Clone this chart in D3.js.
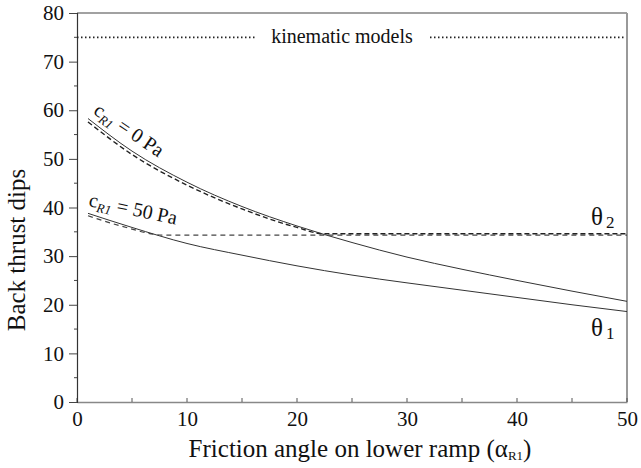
<!DOCTYPE html>
<html>
<head>
<meta charset="utf-8">
<script src="https://cdn.jsdelivr.net/npm/d3@7"></script>
<style>
  html, body { margin: 0; padding: 0; background: #fff; }
  svg { display: block; }
  text { font-family: "Liberation Serif", "DejaVu Serif", serif; fill: #111; }
</style>
</head>
<body>
<svg id="chart" width="641" height="468"></svg>
<script>
// Friction angle on the lower ramp (degrees)
const alpha = [1, 5, 10, 15, 20, 25, 30, 35, 40, 45, 50];
// Back thrust dip theta1 for cohesion 0 Pa and 50 Pa (solid)
const theta1C0 = [58.3, 51.6, 45.2, 40.2, 36.2, 32.8, 29.8, 27.3, 25.0, 22.8, 20.7];
const theta1C50 = [38.8, 35.9, 32.6, 30.2, 28.0, 26.1, 24.5, 23.0, 21.5, 20.0, 18.6];
// Back thrust dip theta2 (dashed), levelling off at the critical value
const alphaT2C0 = [1, 5, 10, 15, 20, 22.4, 30, 40, 50];
const theta2C0 = [57.6, 50.9, 44.6, 39.7, 35.9, 34.6, 34.6, 34.6, 34.6];
const alphaT2C50 = [1, 4, 8, 20, 30, 40, 50];
const theta2C50 = [38.3, 36.2, 34.3, 34.3, 34.3, 34.3, 34.3];
// Kinematic models reference dip
const kinematicDip = 75;

const xTicks = [0, 10, 20, 30, 40, 50];
const xMinor = [5, 15, 25, 35, 45];
const yTicks = [0, 10, 20, 30, 40, 50, 60, 70, 80];
const yMinor = [5, 15, 25, 35, 45, 55, 65, 75];

const mLeft = 77, mRight = 627, mTop = 13, mBottom = 402;
const svg = d3.select("#chart");
const x = d3.scaleLinear().domain([0, 50]).range([mLeft, mRight]);
const y = d3.scaleLinear().domain([0, 80]).range([mBottom, mTop]);

// frame: top dark, right light grey
svg.append("line").attr("x1", mLeft).attr("x2", mRight).attr("y1", mTop).attr("y2", mTop)
  .attr("stroke", "#444").attr("stroke-width", 1.2);
svg.append("line").attr("x1", mRight).attr("x2", mRight).attr("y1", mTop).attr("y2", mBottom)
  .attr("stroke", "#999").attr("stroke-width", 2);

// x axis (ticks pointing inward)
const xAxis = svg.append("g").attr("transform", `translate(0,${mBottom})`)
  .call(d3.axisBottom(x).tickValues(xTicks).tickSize(0).tickPadding(9).tickFormat(d3.format("d")));
xAxis.select(".domain").attr("stroke", "#888").attr("stroke-width", 1.6);
xAxis.selectAll("text").attr("font-size", 21).attr("font-family", "Liberation Serif").attr("fill", "#111");
svg.append("g").selectAll("line").data(xTicks.concat(xMinor)).join("line")
  .attr("x1", d => x(d)).attr("x2", d => x(d))
  .attr("y1", mBottom).attr("y2", mBottom - 4)
  .attr("stroke", "#555").attr("stroke-width", 1);

// y axis (ticks pointing outward)
const yAxis = svg.append("g").attr("transform", `translate(${mLeft},0)`)
  .call(d3.axisLeft(y).tickValues(yTicks).tickSize(8).tickPadding(5).tickFormat(d3.format("d")));
yAxis.select(".domain").attr("stroke", "#333").attr("stroke-width", 1.2);
yAxis.selectAll(".tick line").attr("stroke", "#444");
yAxis.selectAll("text").attr("font-size", 21).attr("font-family", "Liberation Serif").attr("fill", "#111");
svg.append("g").selectAll("line").data(yMinor).join("line")
  .attr("x1", mLeft - 3).attr("x2", mLeft)
  .attr("y1", d => y(d)).attr("y2", d => y(d))
  .attr("stroke", "#444").attr("stroke-width", 1);

// axis titles
svg.append("text")
  .attr("transform", "translate(25,250) rotate(-90)")
  .attr("text-anchor", "middle").attr("font-size", 25)
  .text("Back thrust dips");

const xt = svg.append("text").attr("x", 360).attr("y", 457)
  .attr("text-anchor", "middle").attr("font-size", 25);
xt.append("tspan").text("Friction angle on lower ramp (α");
xt.append("tspan").attr("font-size", 13).attr("dy", 3).text("R1");
xt.append("tspan").attr("dy", -3).text(")");

// kinematic models reference line with its label
const kinY = y(kinematicDip);
svg.append("line").attr("x1", mLeft).attr("x2", 255).attr("y1", kinY).attr("y2", kinY)
  .attr("stroke", "#222").attr("stroke-width", 1.8).attr("stroke-dasharray", "1.5,2.5");
svg.append("line").attr("x1", 430).attr("x2", mRight - 2).attr("y1", kinY).attr("y2", kinY)
  .attr("stroke", "#222").attr("stroke-width", 1.8).attr("stroke-dasharray", "1.5,2.5");
svg.append("text").attr("x", 342).attr("y", kinY + 6).attr("text-anchor", "middle")
  .attr("font-size", 20).text("kinematic models");

// curves
const line = d3.line().x(d => x(d[0])).y(d => y(d[1])).curve(d3.curveMonotoneX);
const zip = (a, b) => a.map((v, i) => [v, b[i]]);

svg.append("path").datum(zip(alphaT2C50, theta2C50)).attr("d", line)
  .attr("fill", "none").attr("stroke", "#444").attr("stroke-width", 1.2).attr("stroke-dasharray", "5,4");
svg.append("path").datum(zip(alphaT2C0, theta2C0)).attr("d", line)
  .attr("fill", "none").attr("stroke", "#222").attr("stroke-width", 1.4).attr("stroke-dasharray", "5,3");
svg.append("path").datum(zip(alpha, theta1C0)).attr("d", line)
  .attr("fill", "none").attr("stroke", "#333").attr("stroke-width", 1);
svg.append("path").datum(zip(alpha, theta1C50)).attr("d", line)
  .attr("fill", "none").attr("stroke", "#333").attr("stroke-width", 1);

// cohesion labels, rotated along the curves
function cohesionLabel(px, py, angle, value) {
  const t = svg.append("text")
    .attr("transform", `translate(${px},${py}) rotate(${angle})`)
    .attr("font-size", 20);
  t.append("tspan").text("c");
  t.append("tspan").attr("font-size", 13).attr("font-style", "italic").attr("dy", 4).text("R1");
  t.append("tspan").attr("dy", -4).text(" = " + value + " Pa");
}
cohesionLabel(x(1.4), y(59.4), 34, 0);
cohesionLabel(x(1.0), y(40.3), 12, 50);

// theta labels
function thetaLabel(px, py, sub) {
  const t = svg.append("text").attr("x", px).attr("y", py).attr("font-size", 25);
  t.append("tspan").text("θ");
  t.append("tspan").attr("font-size", 17).attr("dx", 3).attr("dy", 3).text(sub);
}
thetaLabel(591, 225, "2");
thetaLabel(591, 336, "1");
</script>
</body>
</html>
